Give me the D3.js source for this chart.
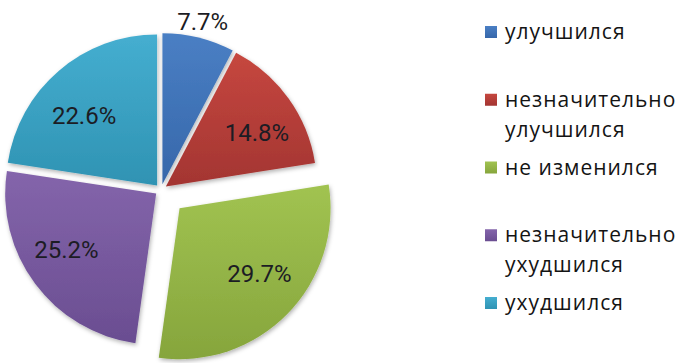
<!DOCTYPE html>
<html>
<head>
<meta charset="utf-8">
<script src="https://cdn.jsdelivr.net/npm/d3@7"></script>
<style>
  html, body { margin: 0; padding: 0; background: #fff; }
  svg { display: block; }
  .pct { font-family: Roboto, "DejaVu Sans", sans-serif; font-size: 24px; fill: #1c1c24; }
  .legend text { font-family: "Open Sans", "Noto Sans", sans-serif; font-size: 21px; fill: #141414; letter-spacing: 1px; }
</style>
</head>
<body>
<svg id="chart" width="677" height="363"></svg>
<script>
(function () {
  "use strict";

  // data
  var categories = ["улучшился", "незначительно улучшился", "не изменился", "незначительно ухудшился", "ухудшился"];
  var legendLines = [["улучшился"], ["незначительно", "улучшился"], ["не изменился"], ["незначительно", "ухудшился"], ["ухудшился"]];
  var values = [7.7, 14.8, 29.7, 25.2, 22.6];

  // top / bottom gradient stops per slice
  var colorsTop = ["#4a7fc4", "#c6473f", "#a1c351", "#8465ab", "#45aed0"];
  var colorsBottom = ["#3667aa", "#a33532", "#86a53c", "#6a4d91", "#2f93b3"];

  var cx = 161, cy = 190, radius = 151;

  var svg = d3.select("#chart");
  var defs = svg.append("defs");

  defs.append("filter").attr("id", "shadow")
    .attr("x", "-10%").attr("y", "-10%").attr("width", "130%").attr("height", "130%")
    .append("feDropShadow")
    .attr("dx", 1).attr("dy", 2).attr("stdDeviation", 2)
    .attr("flood-color", "#000").attr("flood-opacity", 0.3);

  categories.forEach(function (c, i) {
    var g = defs.append("linearGradient").attr("id", "grad" + i)
      .attr("x1", 0).attr("y1", 0).attr("x2", 0).attr("y2", 1);
    g.append("stop").attr("offset", "0%").attr("stop-color", colorsTop[i]);
    g.append("stop").attr("offset", "100%").attr("stop-color", colorsBottom[i]);
  });

  var rows = categories.map(function (c, i) {
    return { name: c, value: values[i], index: i };
  });

  var pie = d3.pie().sort(null).value(function (d) { return d.value; });
  var arc = d3.arc().innerRadius(0).outerRadius(radius);
  var maxValue = d3.max(values);

  // the largest slice is pulled out further than the rest
  var explode = function (d) { return d.data.value === maxValue ? 26 : 6; };
  var midAngle = function (d) { return (d.startAngle + d.endAngle) / 2; };
  var offset = function (d) {
    var a = midAngle(d), k = explode(d);
    return [Math.sin(a) * k, -Math.cos(a) * k];
  };

  var pieG = svg.append("g").attr("transform", "translate(" + cx + "," + cy + ")");
  var arcs = pie(rows);

  var slices = pieG.selectAll("g.slice")
    .data(arcs).enter()
    .append("g").attr("class", "slice")
    .attr("transform", function (d) {
      var o = offset(d);
      return "translate(" + o[0] + "," + o[1] + ")";
    });

  slices.append("path")
    .attr("d", arc)
    .attr("fill", function (d) { return "url(#grad" + d.data.index + ")"; })
    .attr("filter", "url(#shadow)");

  // labels sit on an ellipse (text is wider than tall); small slices go outside
  var labelPos = function (d) {
    var a = midAngle(d);
    if (d.data.value < 10) return [Math.sin(a) * 168, -Math.cos(a) * 168];
    return [Math.sin(a) * 112, -Math.cos(a) * 93];
  };

  slices.append("text")
    .attr("class", "pct")
    .attr("text-anchor", "middle")
    .attr("dy", "0.36em")
    .attr("transform", function (d) {
      var p = labelPos(d);
      return "translate(" + p[0] + "," + p[1] + ")";
    })
    .text(function (d) { return d.data.value.toFixed(1) + "%"; });

  // legend
  var legendY = d3.scalePoint().domain(categories).range([32, 303]);
  var legend = svg.append("g").attr("class", "legend");

  var items = legend.selectAll("g")
    .data(rows).enter()
    .append("g")
    .attr("transform", function (d) { return "translate(485," + legendY(d.name) + ")"; });

  items.append("rect")
    .attr("x", 0).attr("y", -6).attr("width", 12).attr("height", 12)
    .attr("fill", function (d) { return "url(#grad" + d.index + ")"; });

  items.append("text")
    .attr("x", 20).attr("y", 7)
    .selectAll("tspan")
    .data(function (d) { return legendLines[d.index]; })
    .enter().append("tspan")
    .attr("x", 20)
    .attr("dy", function (d, i) { return i === 0 ? 0 : 30; })
    .text(function (d) { return d; });
}());
</script>
</body>
</html>
